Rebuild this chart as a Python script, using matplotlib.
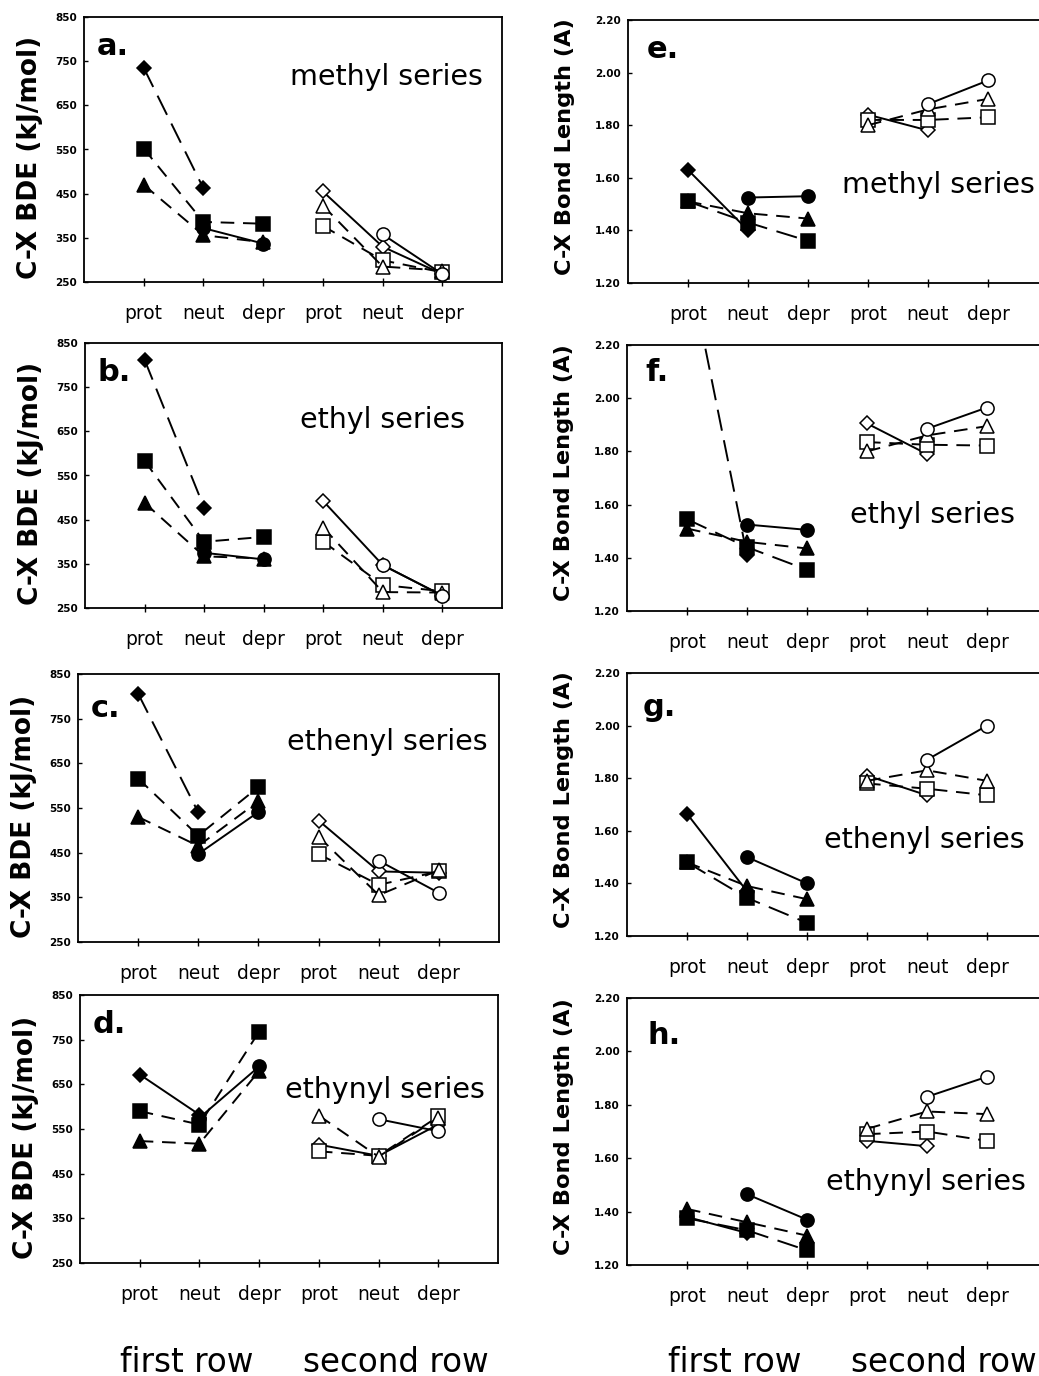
import numpy as np
import matplotlib
matplotlib.use("Agg")
import matplotlib.pyplot as plt

nan = np.nan

# ---------------- data ----------------
states = ["prot", "neut", "depr"]
xlabels = states + states
series_names = ["methyl series", "ethyl series", "ethenyl series", "ethynyl series"]
left_letters = ["a.", "b.", "c.", "d."]
right_letters = ["e.", "f.", "g.", "h."]
bde_ticks = [250, 350, 450, 550, 650, 750, 850]
bl_ticks = [1.20, 1.40, 1.60, 1.80, 2.00, 2.20]

# C-X BDE (kJ/mol); rows: methyl, ethyl, ethenyl, ethynyl; cols: prot, neut, depr
# first row (filled markers)
bde_F = [[735, 462, nan], [812, 477, nan], [806, 540, nan], [672, 582, nan]]
bde_O = [[552, 386, 382], [583, 400, 411], [616, 488, 597], [590, 560, 768]]
bde_N = [[470, 356, 340], [488, 367, 362], [530, 465, 565], [523, 517, 680]]
bde_C = [[nan, 372, 337], [nan, 375, 360], [nan, 447, 541], [nan, 575, 690]]
# second row (open markers)
bde_Cl = [[455, 330, 268], [492, 347, 278], [522, 408, 405], [515, 490, 560]]
bde_S = [[377, 299, 272], [400, 302, 288], [447, 378, 408], [500, 490, 578]]
bde_P = [[423, 285, 276], [432, 286, 285], [486, 355, 411], [580, 488, 575]]
bde_Si = [[nan, 358, 268], [nan, 347, 278], [nan, 432, 360], [nan, 572, 545]]

# C-X bond length (A)
bl_F = [[1.63, 1.40, nan], [2.53, 1.41, nan], [1.665, 1.37, nan], [1.38, 1.32, nan]]
bl_O = [[1.51, 1.43, 1.36], [1.545, 1.44, 1.355], [1.48, 1.345, 1.25], [1.375, 1.33, 1.255]]
bl_N = [[1.51, 1.465, 1.445], [1.51, 1.46, 1.435], [1.48, 1.39, 1.34], [1.41, 1.36, 1.31]]
bl_C = [[nan, 1.525, 1.53], [nan, 1.525, 1.505], [nan, 1.50, 1.40], [nan, 1.465, 1.37]]
bl_Cl = [[1.84, 1.78, nan], [1.905, 1.79, nan], [1.81, 1.735, nan], [1.665, 1.645, nan]]
bl_S = [[1.82, 1.82, 1.83], [1.835, 1.825, 1.822], [1.78, 1.76, 1.735], [1.69, 1.70, 1.665]]
bl_P = [[1.80, 1.86, 1.90], [1.80, 1.86, 1.895], [1.79, 1.83, 1.79], [1.71, 1.775, 1.765]]
bl_Si = [[nan, 1.88, 1.97], [nan, 1.885, 1.965], [nan, 1.87, 2.00], [nan, 1.83, 1.905]]

# ---------------- styles ----------------
LONG = (0, (11, 5))
MED = (0, (7, 4.5))

bde_series = [
    (bde_F, 'D', 7.5, True, [LONG, LONG, LONG, '-']),
    (bde_O, 's', 9.5, True, [MED] * 4),
    (bde_N, '^', 9.5, True, [MED] * 4),
    (bde_C, 'o', 9.5, True, ['-'] * 4),
    (bde_Cl, 'D', 7.5, False, ['-'] * 4),
    (bde_S, 's', 9.5, False, [MED] * 4),
    (bde_P, '^', 9.5, False, [MED] * 4),
    (bde_Si, 'o', 9.5, False, ['-'] * 4),
]
bl_series = [
    (bl_F, 'D', 7.5, True, ['-', LONG, '-', '-']),
    (bl_O, 's', 9.5, True, [LONG] * 4),
    (bl_N, '^', 9.5, True, [MED] * 4),
    (bl_C, 'o', 9.5, True, ['-'] * 4),
    (bl_Cl, 'D', 7.5, False, ['-'] * 4),
    (bl_S, 's', 9.5, False, [MED] * 4),
    (bl_P, '^', 9.5, False, [MED] * 4),
    (bl_Si, 'o', 9.5, False, ['-'] * 4),
]

W, H = 1039, 1376
fig = plt.figure(figsize=(W / 100, H / 100), dpi=100)
fig.patch.set_facecolor('white')


def add_ax(l, t, r, b):
    return fig.add_axes([l / W, 1 - b / H, (r - l) / W, (b - t) / H])


left_boxes = [(84, 17, 502, 282), (85, 343, 502, 608), (78, 674, 499, 942), (80, 995, 498, 1263)]
right_boxes = [(628, 20, 1048, 283), (627, 345, 1047, 611), (627, 673, 1047, 936), (627, 998, 1047, 1265)]

left_letter_pos = [(0.03, 0.89), (0.03, 0.89), (0.03, 0.873), (0.03, 0.89)]
right_letter_pos = [(0.045, 0.886), (0.043, 0.895), (0.038, 0.87), (0.048, 0.86)]
left_series_pos = [(0.493, 0.774), (0.515, 0.71), (0.496, 0.746), (0.49, 0.646)]
right_series_pos = [(0.51, 0.373), (0.53, 0.36), (0.47, 0.365), (0.475, 0.31)]


def draw_panel(ax, series, k, ylim, yticks, yfmt, ylabel, ylabel_size, ylabel_x, ylabel_y,
               letter, letter_pos, sname, sname_pos):
    for vals, mk, ms, filled, styles in series:
        x = [0, 1, 2] if filled else [3, 4, 5]
        ax.plot(x, vals[k], linestyle=styles[k], color='black', lw=1.4,
                marker=mk, markersize=ms,
                markerfacecolor='black' if filled else 'white',
                markeredgecolor='black', markeredgewidth=1.1, zorder=3)
    ax.set_xlim(-1, 6)
    ax.set_ylim(*ylim)
    ax.set_xticks(range(6))
    ax.set_xticklabels(xlabels)
    ax.set_yticks(yticks)
    ax.set_yticklabels([yfmt.format(v) for v in yticks], fontweight='bold')
    ax.tick_params(axis='x', direction='inout', length=6, width=1, pad=13, labelsize=13.4)
    ax.tick_params(axis='y', direction='in', length=3, width=1, pad=5, labelsize=7.5)
    for s in ax.spines.values():
        s.set_linewidth(1.3)
    ax.text(ylabel_x, ylabel_y, ylabel, transform=ax.transAxes, rotation=90,
            ha='center', va='center', fontsize=ylabel_size, fontweight='bold')
    ax.text(letter_pos[0], letter_pos[1], letter, transform=ax.transAxes,
            ha='left', va='center', fontsize=22, fontweight='bold')
    ax.text(sname_pos[0], sname_pos[1], sname, transform=ax.transAxes,
            ha='left', va='center', fontsize=20.5)


for k in range(4):
    axl = add_ax(*left_boxes[k])
    draw_panel(axl, bde_series, k, (250, 850), bde_ticks, "{:d}", "C-X BDE (kJ/mol)", 19,
               -0.129, 0.47, left_letters[k], left_letter_pos[k], series_names[k],
               left_series_pos[k])
    axr = add_ax(*right_boxes[k])
    draw_panel(axr, bl_series, k, (1.2, 2.2), bl_ticks, "{:.2f}", "C-X Bond Length (A)", 16.2,
               -0.15, 0.52, right_letters[k], right_letter_pos[k], series_names[k],
               right_series_pos[k])

for x, t in [(187, "first row"), (396, "second row"), (735, "first row"), (944, "second row")]:
    fig.text(x / W, 1 - 1362 / H, t, ha='center', va='center', fontsize=23.5)

fig.savefig("out.png", dpi=100, facecolor='white')
